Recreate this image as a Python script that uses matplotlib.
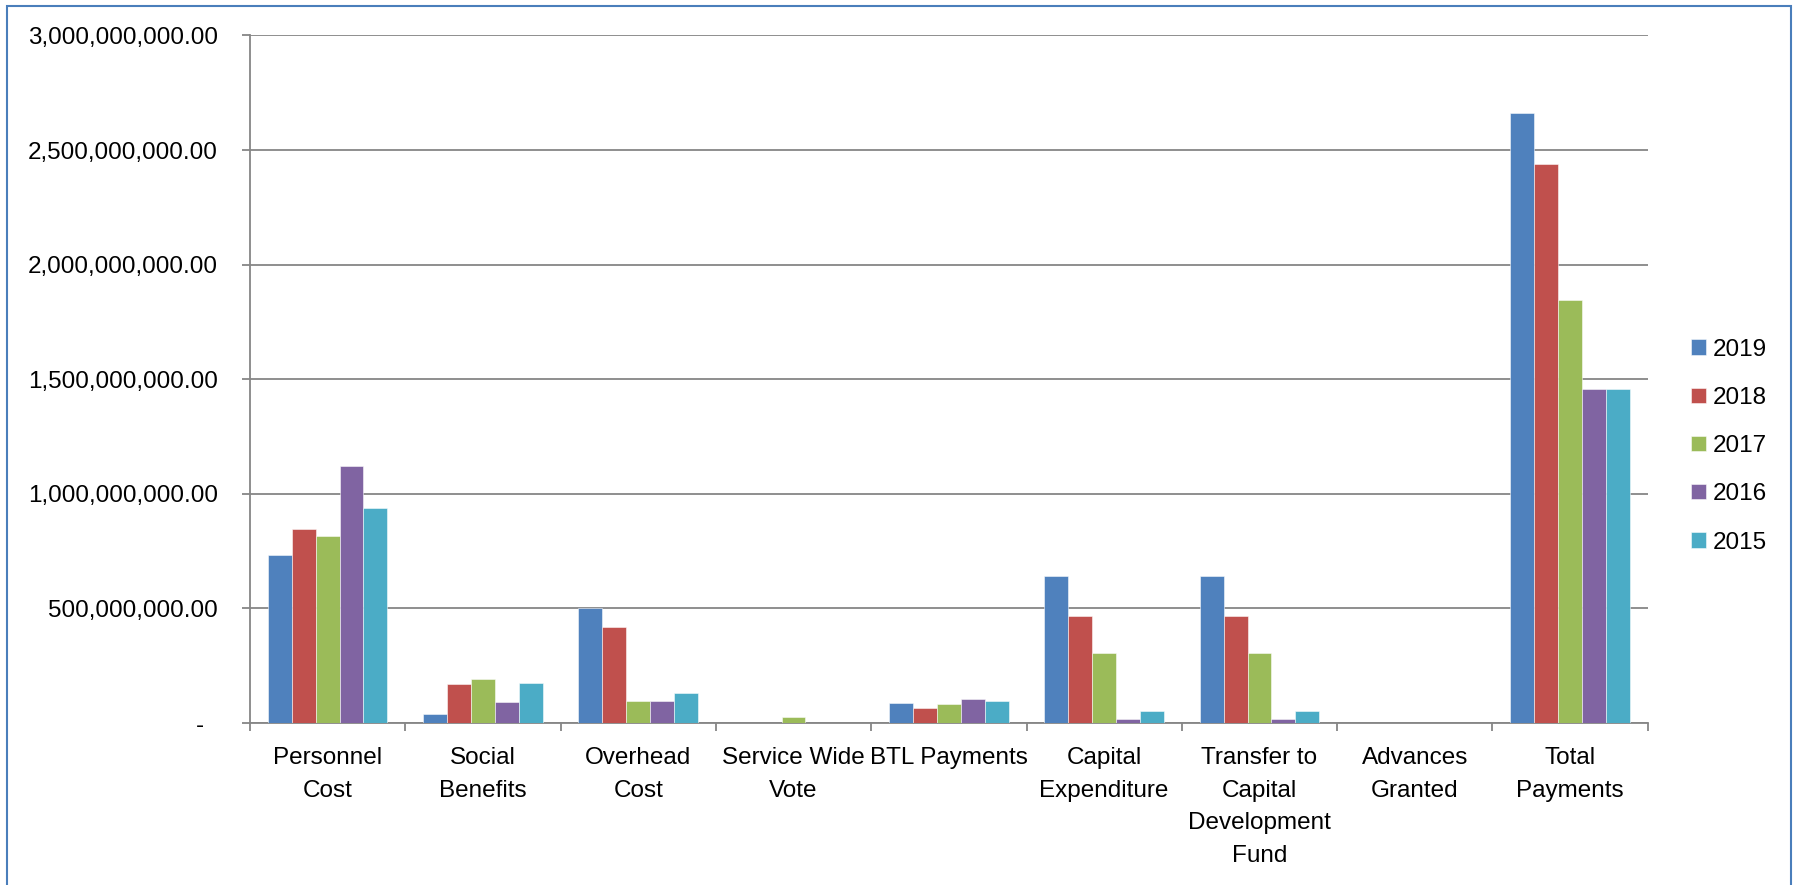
import numpy as np
import matplotlib
matplotlib.use("Agg")
import matplotlib.pyplot as plt
from matplotlib.patches import Rectangle
from matplotlib.ticker import FuncFormatter

plt.rcParams['font.family'] = ['Liberation Sans', 'DejaVu Sans']

# Datos
categorias = ["Personnel\nCost", "Social\nBenefits", "Overhead\nCost", "Service Wide\nVote",
              "BTL Payments", "Capital\nExpenditure", "Transfer to\nCapital\nDevelopment\nFund",
              "Advances\nGranted", "Total\nPayments"]
anios = ["2019", "2018", "2017", "2016", "2015"]
v2019 = [734e6, 39e6, 500e6, 0, 87e6, 643e6, 643e6, 0, 2660e6]
v2018 = [847e6, 170e6, 417e6, 0, 67e6, 465e6, 465e6, 0, 2441e6]
v2017 = [817e6, 192e6, 98e6, 28e6, 85e6, 306e6, 306e6, 0, 1845e6]
v2016 = [1121e6, 92e6, 95e6, 0, 106e6, 19e6, 19e6, 0, 1458e6]
v2015 = [940e6, 173e6, 131e6, 0, 98e6, 54e6, 54e6, 0, 1458e6]
series = [v2019, v2018, v2017, v2016, v2015]
colores = ["#4F81BD", "#C0504D", "#9BBB59", "#8064A2", "#4BACC6"]

fig = plt.figure(figsize=(17.93, 8.85), dpi=100)
ax = fig.add_axes([0.1394, 0.183, 0.9190 - 0.1394, 0.960 - 0.183])

x = np.arange(len(categorias))
ancho = 1 / 6.5
for i, (vals, col, an) in enumerate(zip(series, colores, anios)):
    ax.bar(x + (i - 2) * ancho, vals, ancho, color=col, label=an,
           edgecolor=(1, 1, 1, 0.6), linewidth=0.6, zorder=3)

ax.set_xlim(-0.5, len(categorias) - 0.5)
ax.set_ylim(0, 3e9)
ax.set_yticks(np.arange(0, 3.01e9, 5e8))


def fmt(v, pos):
    if v == 0:
        return "-  "
    return f"{v:,.2f}"


ax.yaxis.set_major_formatter(FuncFormatter(fmt))
ax.grid(axis='y', color='#868686', linewidth=1.3, zorder=0)

ax.set_xticks(x)
ax.set_xticklabels(categorias)
ax.set_xticks(np.arange(-0.5, len(categorias)), minor=True)
ax.tick_params(axis='x', which='major', length=0, pad=17.5, labelsize=17.5)
ax.tick_params(axis='x', which='minor', length=6, width=1.3, color='#868686')
ax.tick_params(axis='y', length=6, width=1.3, color='#868686', pad=17, labelsize=17.5)
for t in ax.get_xticklabels():
    t.set_linespacing(1.62)

for s in ['top', 'right']:
    ax.spines[s].set_visible(False)
for s in ['left', 'bottom']:
    ax.spines[s].set_color('#868686')
    ax.spines[s].set_linewidth(1.3)

ax.legend(loc='center left', bbox_to_anchor=(0.943, 0.496), bbox_transform=fig.transFigure,
          frameon=False, fontsize=17.5, handlelength=0.62, handleheight=0.58,
          handletextpad=0.3, labelspacing=1.08, borderpad=0, borderaxespad=0)

# Borde azul del grafico
fig.patches.append(Rectangle((7 / 1793, -0.02), (1791 - 7) / 1793, 1.02 - 6 / 885,
                             transform=fig.transFigure, fill=False,
                             edgecolor='#4A7EBB', linewidth=1.5))

fig.savefig("out.png", dpi=100)
